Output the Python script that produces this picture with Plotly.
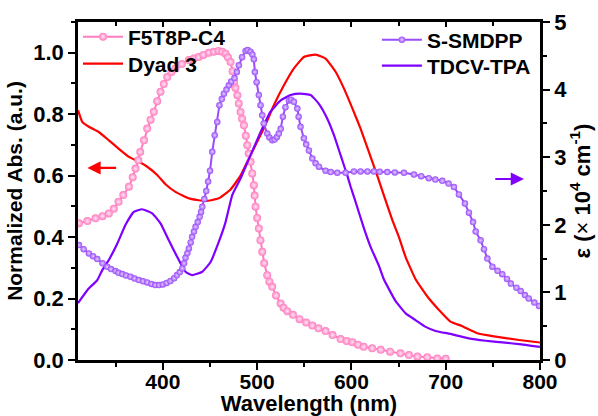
import plotly.graph_objects as go

# ---------------- data ----------------
wl_f5 = [311, 320, 328.6, 336, 342.7, 348, 353, 358, 364, 368, 371, 374, 376, 380, 383.4, 387,
         390.4, 394, 397.5, 401, 404.6, 409, 413.4, 420, 427.6, 433, 438, 443, 448.8, 454, 459,
         463, 466.5, 469, 471.8, 474, 475.5, 477, 479, 480.5, 482.4, 484, 486, 488, 489.5, 491,
         493, 494.8, 496.5, 497.3, 498.3, 500, 501.8, 503.5, 505.4, 507.5, 510.7, 513, 516, 520,
         524.9, 528, 532, 538, 545, 552, 558.5, 565, 572.6, 580, 588.5, 595, 601, 607, 613, 622,
         631, 641, 652, 661, 670, 680.5, 691, 700]
abs_f5 = [0.445, 0.452, 0.461, 0.468, 0.477, 0.492, 0.515, 0.537, 0.564, 0.595, 0.623, 0.650,
          0.677, 0.715, 0.753, 0.782, 0.808, 0.842, 0.873, 0.898, 0.921, 0.937, 0.949, 0.963,
          0.976, 0.981, 0.986, 0.993, 1.0, 1.003, 1.006, 1.003, 0.997, 0.985, 0.970, 0.940,
          0.905, 0.885, 0.862, 0.835, 0.807, 0.785, 0.764, 0.730, 0.699, 0.672, 0.645, 0.607,
          0.569, 0.535, 0.499, 0.462, 0.428, 0.390, 0.352, 0.315, 0.276, 0.255, 0.238, 0.210,
          0.184, 0.170, 0.159, 0.147, 0.133, 0.122, 0.112, 0.103, 0.094, 0.081, 0.068, 0.062,
          0.058, 0.050, 0.043, 0.038, 0.033, 0.027, 0.022, 0.016, 0.011, 0.009, 0.005, 0.004]

wl_dyad = [310, 314.5, 321.5, 332, 342.7, 353, 364, 374.5, 383.4, 394, 402.8, 413.4, 427.6,
           445.3, 459.4, 471.8, 482.4, 493, 507, 517.7, 528.4, 539, 549.6, 562, 572.6, 583.2,
           592, 601, 609.7, 618.5, 627.4, 634.5, 643.4, 650.4, 657.5, 668, 682.2, 692.8, 705,
           717.6, 733.5, 753, 777.7, 800]
abs_dyad = [0.813, 0.775, 0.759, 0.742, 0.715, 0.688, 0.661, 0.645, 0.629, 0.602, 0.572, 0.547,
            0.526, 0.517, 0.526, 0.555, 0.600, 0.667, 0.753, 0.829, 0.894, 0.949, 0.986, 0.994,
            0.981, 0.938, 0.884, 0.819, 0.753, 0.677, 0.600, 0.535, 0.455, 0.400, 0.335, 0.263,
            0.200, 0.163, 0.125, 0.110, 0.087, 0.076, 0.065, 0.057]

wl_ss = [311, 316, 321.5, 326, 330.4, 336, 341, 345, 349.8, 353, 357, 361, 365.7, 370, 374.5,
         379, 383.4, 388, 392, 396, 400, 404, 408, 412, 415, 418, 420.6, 422.5, 424, 426, 427.6,
         429.5, 431, 433, 434.7, 437, 439, 440.5, 441.8, 444, 446, 448, 450, 452.4, 455, 457.7,
         460, 462.5, 464.7, 467.5, 470, 472.5, 476, 478.5, 480.6, 484, 487.7, 490, 493, 495,
         496.5, 497.6, 499.4, 501.8, 503.6, 505.4, 507, 510.7, 513, 516, 518.5, 521, 523, 525,
         527.3, 530, 533.7, 536, 539, 542.6, 544, 546, 549.6, 552, 554.9, 558.5, 562, 565.5,
         572.6, 578, 585, 593.8, 602.6, 609.7, 617, 623.9, 630, 638, 646, 655.7, 666.3, 674,
         682, 689, 696.4, 703, 708.7, 714, 720.4, 724.6, 729, 731.8, 737, 740.6, 744.2, 749.5,
         755, 760, 765, 769, 775, 779.5, 784, 788, 794, 799]
eps_ss = [1.70, 1.64, 1.577, 1.535, 1.493, 1.43, 1.379, 1.345, 1.315, 1.29, 1.271, 1.25, 1.231,
          1.205, 1.182, 1.165, 1.148, 1.125, 1.108, 1.108, 1.118, 1.14, 1.168, 1.21, 1.256, 1.30,
          1.355, 1.43, 1.512, 1.58, 1.651, 1.74, 1.822, 1.90, 1.97, 2.04, 2.118, 2.19, 2.266,
          2.38, 2.50, 2.64, 2.80, 3.08, 3.325, 3.52, 3.77, 3.86, 3.94, 4.0, 4.065, 4.12, 4.17,
          4.26, 4.36, 4.48, 4.57, 4.585, 4.56, 4.52, 4.45, 4.26, 4.11, 3.92, 3.77, 3.62, 3.50,
          3.35, 3.29, 3.25, 3.26, 3.30, 3.35, 3.42, 3.60, 3.74, 3.84, 3.85, 3.82, 3.72, 3.60,
          3.45, 3.28, 3.19, 3.10, 2.98, 2.91, 2.86, 2.80, 2.78, 2.77, 2.77, 2.79, 2.79, 2.79,
          2.79, 2.785, 2.78, 2.775, 2.77, 2.745, 2.72, 2.69, 2.67, 2.65, 2.61, 2.56, 2.45, 2.316,
          2.18, 2.04, 1.90, 1.77, 1.64, 1.50, 1.38, 1.32, 1.27, 1.20, 1.13, 1.07, 1.02, 0.96,
          0.91, 0.85, 0.80]

wl_tdcv = [310, 321.5, 330.4, 335.7, 342.7, 351.6, 360.4, 369.2, 378, 388.7, 397.5, 406.3, 415,
           424, 431, 441.8, 450.6, 459.4, 466.5, 473.6, 482.4, 493, 503.6, 514, 525, 535.5, 546,
           556.7, 565.5, 574.4, 581.4, 588.5, 595.6, 599, 604.4, 613.2, 620.4, 629, 634.5, 640.5,
           646.9, 657.5, 668, 678.7, 689.3, 707, 724.6, 742.4, 760, 777.7, 800]
eps_tdcv = [0.84, 1.06, 1.18, 1.33, 1.48, 1.72, 2.0, 2.19, 2.23, 2.17, 2.02, 1.77, 1.53, 1.305,
            1.256, 1.305, 1.45, 1.75, 2.04, 2.44, 2.686, 3.03, 3.37, 3.67, 3.84, 3.92, 3.94, 3.92,
            3.79, 3.57, 3.33, 3.03, 2.73, 2.57, 2.34, 1.95, 1.67, 1.40, 1.19, 1.03, 0.87, 0.69,
            0.59, 0.49, 0.43, 0.38, 0.32, 0.285, 0.26, 0.236, 0.195]

x_range = [310, 800]
left_range = [0, 1.1]
right_range = [0, 5]

FONT = "Liberation Sans, Arial, sans-serif"
PINK = "#FF7CBF"
RED = "#FF0000"
VIOLET = "#7F00FF"
PURPLE = "#9A4BFA"

fig = go.Figure()
fig.add_trace(go.Scatter(x=wl_dyad, y=abs_dyad, name="Dyad 3", mode="lines",
                         line=dict(color=RED, width=2.2, shape="spline", smoothing=0.4),
                         legend="legend2"))
fig.add_trace(go.Scatter(x=wl_tdcv, y=eps_tdcv, name="TDCV-TPA", mode="lines", yaxis="y2",
                         line=dict(color=VIOLET, width=2.2, shape="spline", smoothing=0.4),
                         legend="legend4"))
fig.add_trace(go.Scatter(x=wl_f5, y=abs_f5, name="F5T8P-C4", mode="lines+markers",
                         line=dict(color=PINK, width=2),
                         marker=dict(size=8, color=PINK, line=dict(width=0),
                                     gradient=dict(type="radial", color="#FFE6F3")),
                         legend="legend"))
fig.add_trace(go.Scatter(x=wl_ss, y=eps_ss, name="S-SMDPP", mode="lines+markers", yaxis="y2",
                         line=dict(color=PURPLE, width=2),
                         marker=dict(size=6.5, color=PURPLE, line=dict(width=0),
                                     gradient=dict(type="radial", color="#E2D0FF")),
                         legend="legend3"))
# empty trace to carry the top mirror axis
fig.add_trace(go.Scatter(x=[], y=[], xaxis="x2", showlegend=False, hoverinfo="skip"))

TICKFONT = dict(family=FONT, size=22, color="black", weight="bold")
axis_common = dict(showline=True, linewidth=2.6, linecolor="black", showgrid=False,
                   zeroline=False, tickcolor="black", tickwidth=2.4, automargin=False,
                   tickfont=TICKFONT)


def leg(xp, yp):
    return dict(x=xp, y=yp, xanchor="left", yanchor="middle", bgcolor="rgba(0,0,0,0)",
                font=dict(family=FONT, size=21, weight="bold"), itemwidth=40, visible=True)


fig.update_layout(
    width=598, height=416,
    showlegend=True,
    margin=dict(l=78, r=58, t=22, b=56, autoexpand=False),
    paper_bgcolor="white", plot_bgcolor="white",
    font=dict(family=FONT, color="black"),
    xaxis=dict(range=x_range, tickmode="linear", tick0=300, dtick=100, ticks="outside",
               ticklen=7, ticklabelstandoff=-6,
               minor=dict(dtick=50, ticks="outside", ticklen=4, tickwidth=2, tickcolor="black"),
               title=dict(text="Wavelength (nm)", standoff=4,
                          font=dict(family=FONT, size=22, weight="bold")),
               **{**axis_common, "tickfont": dict(TICKFONT, size=21)}),
    xaxis2=dict(range=x_range, overlaying="x", side="top", tickmode="linear", tick0=300,
                dtick=100, ticks="inside", showticklabels=False, ticklen=5,
                minor=dict(dtick=50, ticks="inside", ticklen=4, tickwidth=2, tickcolor="black"),
                **axis_common),
    yaxis=dict(range=left_range, tickmode="linear", tick0=0, dtick=0.2, tickformat=".1f",
               ticks="outside", ticklen=7,
               minor=dict(dtick=0.1, ticks="outside", ticklen=4, tickwidth=2, tickcolor="black"),
               title=dict(text="Normalized Abs. (a.u.)", standoff=5,
                          font=dict(family=FONT, size=21, weight="bold")),
               **axis_common),
    yaxis2=dict(range=right_range, overlaying="y", side="right", tickmode="linear", tick0=0,
                dtick=1, ticks="outside", ticklen=7,
                minor=dict(dtick=0.5, ticks="outside", ticklen=4, tickwidth=2, tickcolor="black"),
                title=dict(text="<b>ε (</b>×<b> 10<sup>4</sup> cm<sup>-1</sup>)</b>", standoff=6,
                           font=dict(family=FONT, size=22)),
                **axis_common),
    legend=leg(0.0, 0.9556),
    legend2=leg(0.0, 0.8757),
    legend3=leg(0.647, 0.9467),
    legend4=leg(0.647, 0.8698),
    annotations=[
        dict(x=320, y=0.625, ax=352, ay=0.625, xref="x", yref="y", axref="x", ayref="y",
             showarrow=True, arrowhead=2, arrowsize=1.2, arrowwidth=2.2, arrowcolor=RED, text=""),
        dict(x=783, y=0.589, ax=751, ay=0.589, xref="x", yref="y", axref="x", ayref="y",
             showarrow=True, arrowhead=2, arrowsize=1.2, arrowwidth=2.2, arrowcolor=VIOLET, text=""),
    ],
)

fig.write_html("out.html")
